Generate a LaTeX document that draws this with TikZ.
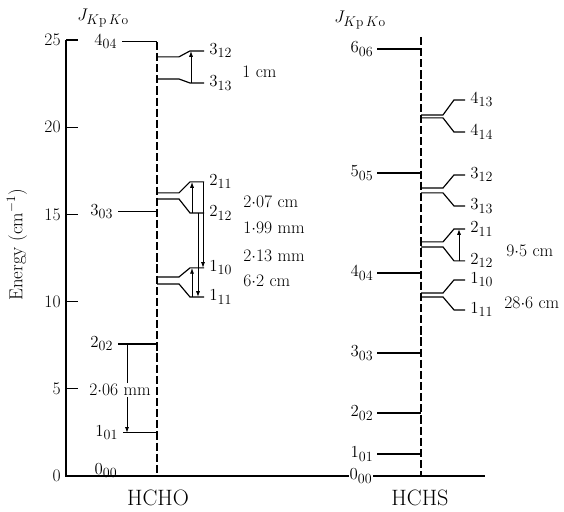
\documentclass[tikz,border=0pt]{standalone}
\usepackage{fontspec}
\usetikzlibrary{arrows.meta,positioning}
\DeclareMathSizes{15}{15}{11.5}{8.5}
\begin{document}
\begin{tikzpicture}[
		x=0.03cm, y=0.5232cm,
		lvl/.style={line width=1pt},
		col/.style={line width=1pt, dash pattern=on 7pt off 2.5pt},
		tr/.style={-{Latex[length=5pt,width=3.5pt]}, line width=0.8pt},
		lab/.style={font=\fontsize{15}{17}\selectfont, inner sep=1pt},
		mol/.style={font=\fontsize{19}{22}\selectfont}
		]
		\useasboundingbox (0,-2.064) rectangle (564,27.29);
		
		\coordinate (hcho) at (157,0);
		\coordinate (hchs) at (421,0);
		
		\draw[lvl] (66,25) -- (66,0) -- (485,0);
		\foreach \v in {0,5,...,25}
			\node[lab, anchor=east] (t\v) at (62,\v) {\v};
		\foreach \v in {5,10,...,25}
			\draw[lvl] (66,\v) -- (78,\v);
		\node[lab, rotate=90, font=\fontsize{16}{18}\selectfont] (energy) at (17,13.25) {Energy (cm$^{-1}$)};
		\node[lab] (jo) at (103,26.26) {$J_{K\mathrm{p}\,K\mathrm{o}}$};
		\node[lab] (js) at (360,26.15) {$J_{K\mathrm{p}\,K\mathrm{o}}$};
		
		\draw[col] (157,24.89) -- (hcho);
		\draw[col] (421,25.17) -- (hchs);
		
		\foreach \n/\x/\e/\j in {o404/122/24.89/4_{04}, o303/118/15.14/3_{03},
				o202/118/7.57/2_{02}, o101/123/2.47/1_{01}}{
			\coordinate (\n) at (\x,\e);
			\draw[lvl] (\n) -- (\n -| hcho);
			\node[lab, left=3pt of \n] (l\n) {$\j$};
		}
		\node[lab] (o000) at (106,0.3) {$0_{00}$};
		
		\foreach \n/\e/\j in {s606/24.48/6_{06}, s505/17.37/5_{05}, s404/11.64/4_{04},
				s303/7.05/3_{03}, s202/3.61/2_{02}, s101/1.26/1_{01}}{
			\coordinate (\n) at (377,\e);
			\draw[lvl] (\n) -- (\n -| hchs);
			\node[lab, left=2pt of \n] (l\n) {$\j$};
		}
		\node[lab, fill=white] (s000) at (361,0) {$0_{00}$};
		
		\foreach \c/\xc/\su/\sl/\eu/\el/\nu/\nl/\ju/\jl in {
				157/204/24.03/22.76/24.37/22.53/o312/o313/3_{12}/3_{13},
				157/204/16.23/15.88/16.86/15.08/o211/o212/2_{11}/2_{12},
				157/204/11.41/11.01/11.93/10.26/o110/o111/1_{10}/1_{11},
				421/465/20.70/20.53/21.56/19.72/s413/s414/4_{13}/4_{14},
				421/465/16.51/16.23/17.26/15.48/s312/s313/3_{12}/3_{13},
				421/465/13.42/13.13/14.16/12.33/s211/s212/2_{11}/2_{12},
				421/465/10.49/10.26/11.24/9.52/s110/s111/1_{10}/1_{11}}{
			\draw[lvl] (\c,\su) -- (\c+22,\su) -- (\c+33,\eu) -- (\xc,\eu);
			\draw[lvl] (\c,\sl) -- (\c+22,\sl) -- (\c+33,\el) -- (\xc,\el);
			\node[lab, anchor=west] (\nu) at (\xc+4,\eu) {$\ju$};
			\node[lab, anchor=west] (\nl) at (\xc+4,\el) {$\jl$};
		}
		
		\draw[tr] (191,0 |- o313.west) -- (191,0 |- o312.west);
		\draw[tr] (192,0 |- o212.west) -- (192,0 |- o211.west);
		\draw[tr] (203,0 |- o211.west) -- (203,0 |- o110.west);
		\draw[tr] (198,0 |- o212.west) -- (198,0 |- o111.west);
		\draw[tr] (192,0 |- o111.west) -- (192,0 |- o110.west);
		\draw[tr] (127,0 |- o202) -- (127,0 |- o101);
		\draw[tr] (459,0 |- s212.west) -- (459,0 |- s211.west);
		
		\node[lab, anchor=west] (v1) at (241,23.17) {1 cm};
		\node[lab, anchor=west] (v2) at (242,15.71) {2$\cdot$07 cm};
		\node[lab, anchor=west] (v3) at (242,14.22) {1$\cdot$99 mm};
		\node[lab, anchor=west] (v4) at (242,12.61) {2$\cdot$13 mm};
		\node[lab, anchor=west] (v5) at (242,11.18) {6$\cdot$2 cm};
		\node[lab, fill=white] (v6) at (120,4.93) {2$\cdot$06 mm};
		\node[lab, anchor=west] (v7) at (505,12.90) {9$\cdot$5 cm};
		\node[lab, anchor=west] (v8) at (503,9.92) {28$\cdot$6 cm};
		
		\node[mol] (m1) at (158,-1.26) {HCHO};
		\node[mol] (m2) at (420,-1.26) {HCHS};
\end{tikzpicture}
\end{document}
